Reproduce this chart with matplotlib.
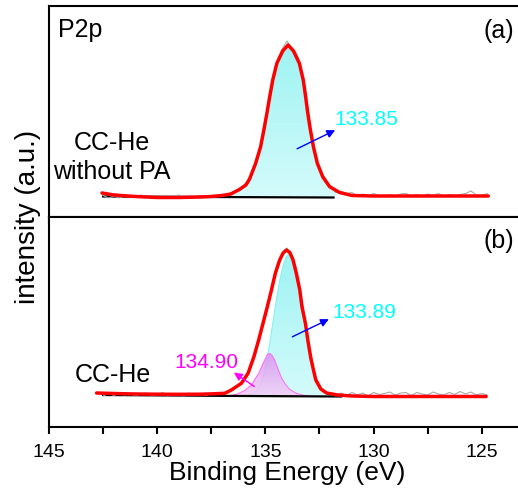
import numpy as np
import matplotlib
matplotlib.use('Agg')
import matplotlib.pyplot as plt
from matplotlib.colors import LinearSegmentedColormap
from matplotlib.patches import Polygon

plt.rcParams['font.family'] = ['Liberation Sans', 'DejaVu Sans']

# raw spectra, binding energy grid (eV)
raw_x = np.arange(142.5, 124.7, -0.25)
raw_a = [21.5, 19, 21, 19, 21.5, 19.5, 20.5, 22, 19, 21, 19, 21.5, 19.5, 20.5, 22, 19, 21, 19.5, 21.5, 19.5,
         21.5, 20.5, 22.5, 22.5, 25, 26.5, 31.5, 38, 51, 67, 93, 122, 152, 167, 176, 167, 160, 135, 101, 66,
         49, 35, 30, 24.5, 25.5, 23.5, 24.5, 21, 23, 21, 23.5, 21.5, 20.5, 22.5, 21, 23, 23.5, 21, 22.5, 21,
         23, 21.5, 23.5, 21, 22.5, 21.5, 22.5, 23.5, 26, 22, 21.5, 23.5]
raw_b = [31, 33.5, 31.5, 34, 32, 33.5, 31, 33, 34, 31.5, 32, 34.5, 31, 33.5, 32, 31, 34, 32, 33.5, 31.5,
         33.5, 34, 32.5, 35, 37, 42, 45, 57, 71, 93, 112, 136, 155, 172, 179, 168, 147, 118, 82, 54,
         41, 34, 34.5, 31, 34, 31.5, 34.5, 32, 34, 31, 34.5, 32.5, 33.5, 35, 32, 34, 34.5, 31.5, 34.5, 33,
         32, 35, 33, 32, 34.5, 32.5, 35.5, 33, 35, 32, 33.5, 32]

# fitted envelope (a) CC-He without PA
env_a_x = [142.55, 142.0, 141.0, 140.0, 139.0, 138.0, 137.5, 137.0, 136.6, 136.2, 135.9, 135.73, 135.45,
           135.22, 135.07, 134.93, 134.80, 134.66, 134.47, 134.2, 133.95, 133.7, 133.43, 133.25, 133.14,
           133.04, 132.92, 132.78, 132.60, 132.35, 132.03, 131.57, 131.0, 130.0, 129.0, 128.0, 127.0,
           126.0, 124.7]
env_a_h = [24, 22, 20.5, 19.5, 19.5, 20, 20.5, 21.5, 23, 27.5, 32, 38, 53.7, 70.3, 87, 103.7, 120.3,
           137, 153.7, 166, 172, 166, 153.7, 137, 120.3, 103.7, 87, 70.3, 53.7, 40.3, 30.3, 24.5, 21.5,
           21, 21, 21, 21, 21, 21]
base_a_x = [142.5, 137.5, 131.85]
base_a_h = [20.5, 20, 19.5]

# fitted envelope (b) CC-He
env_b_x = [142.8, 142.0, 141.0, 140.0, 139.0, 138.0, 137.4, 136.88, 136.57, 136.11, 135.80, 135.53, 135.31,
           135.11, 134.91, 134.72, 134.54, 134.34, 134.18, 134.03, 133.87, 133.72, 133.57, 133.41, 133.31,
           133.15, 133.04, 132.91, 132.81, 132.67, 132.44, 132.17, 131.66, 131.0, 130.0, 129.0, 128.0,
           127.0, 126.0, 124.8]
env_b_h = [34, 33.5, 33, 32.8, 32.7, 32.8, 33.2, 33.7, 37, 43.7, 53.7, 70.3, 87, 103.7, 120.3, 137, 153.7,
           167, 174, 177, 174.5, 167, 153.7, 137, 120.3, 103.7, 87, 70, 60, 47, 38, 34, 32, 31, 30.5,
           30.5, 30.5, 30.5, 30.5, 30.5]
base_b_x = [142.5, 136.0, 131.5]
base_b_h = [32, 31, 30.5]
base_b_level = 30.5

# components (b)
cyan_b_x = [136.5, 136.1, 135.7, 135.45, 135.25, 135.1, 134.95, 134.8, 134.65, 134.5, 134.35, 134.2, 134.05,
            133.89, 133.75, 133.6, 133.45, 133.3, 133.15, 133.0, 132.85, 132.7, 132.55, 132.35, 132.1,
            131.7, 131.3]
cyan_b_h = [30.5, 30.5, 32, 35, 41, 50, 64, 84, 105, 126, 145, 160, 170, 173.7, 170, 160, 145, 126, 105,
            84, 64, 50, 41, 35, 32, 30.5, 30.5]
pink_b_x = [136.7, 136.3, 135.95, 135.65, 135.45, 135.3, 135.15, 135.0, 134.9, 134.82, 134.7, 134.55, 134.4,
            134.25, 134.1, 133.9, 133.6, 133.3, 132.9]
pink_b_h = [31, 33, 36.5, 42, 49, 54, 61.5, 68.5, 72.5, 73.7, 72, 66, 57, 49, 43.5, 38, 34, 32, 31]

red = '#ff0000'


def grad_fill(ax, xs, ys, c_top, c_bot, alpha=1.0, z=1):
    # polygon filled with a vertical colour gradient
    patch = Polygon(np.c_[xs, ys], closed=True, facecolor='none', edgecolor='none')
    ax.add_patch(patch)
    cmap = LinearSegmentedColormap.from_list('g', [c_bot, c_top])
    im = ax.imshow(np.linspace(0, 1, 256).reshape(-1, 1), cmap=cmap, aspect='auto', origin='lower',
                   extent=[min(xs), max(xs), min(ys), max(ys)], alpha=alpha, zorder=z)
    im.set_clip_path(patch)


fig = plt.figure(figsize=(5.18, 5.0), dpi=100)
ax1 = fig.add_axes([0.0946, 0.566, 0.919, 0.422])
ax2 = fig.add_axes([0.0946, 0.146, 0.919, 0.420])

# ---- panel (a)
ex = np.array(env_a_x)
eh = np.array(env_a_h)
m = (ex <= 137.6) & (ex >= 131.5)
grad_fill(ax1, np.r_[ex[m], base_a_x[::-1]], np.r_[eh[m], base_a_h[::-1]], '#9ef3f3', '#d4fbfb')
ax1.plot(base_a_x, base_a_h, color='black', lw=1.6, zorder=2)
ax1.plot(raw_x, raw_a, color='#a8a8a8', lw=0.8, zorder=3)
ax1.plot(env_a_x, env_a_h, color=red, lw=2.5, solid_capstyle='round', zorder=4)

ax1.text(0.018, 0.853, 'P2p', transform=ax1.transAxes, fontsize=18)
ax1.text(0.978, 0.848, '(a)', transform=ax1.transAxes, fontsize=18, ha='right')
ax1.text(142.1, 59.5, 'CC-He\nwithout PA', fontsize=18, ha='center', va='center',
         multialignment='center', linespacing=1.3)
ax1.text(131.8, 92, '133.85', color='#00ffff', fontsize=15)
ax1.annotate('', xy=(131.66, 88), xytext=(133.65, 67),
             arrowprops=dict(arrowstyle='-|>', color='#0000ff', lw=1, mutation_scale=12), zorder=5)

ax1.set_xlim(145, 123)
ax1.set_ylim(0, 211)
ax1.set_yticks([])
ax1.set_xticks([145, 140, 135, 130, 125])
ax1.set_xticks([142.5, 137.5, 132.5, 127.5], minor=True)
ax1.tick_params(axis='x', which='both', direction='out', length=5, width=1.5, labelbottom=False)

# ---- panel (b)
cx = np.array(cyan_b_x)
grad_fill(ax2, np.r_[cx, cx[::-1]], np.r_[cyan_b_h, [base_b_level] * len(cx)], '#9ef3f3', '#d4fbfb')
ax2.plot(cyan_b_x, cyan_b_h, color='#7ff0f0', lw=0.7, zorder=1.5)
px = np.array(pink_b_x)
grad_fill(ax2, np.r_[px, px[::-1]], np.r_[pink_b_h, [base_b_level] * len(px)], '#d990ee', '#f3cdf7',
          alpha=0.85, z=1.6)
ax2.plot(pink_b_x, pink_b_h, color='#ff66ff', lw=0.7, zorder=1.7)
ax2.plot(base_b_x, base_b_h, color='black', lw=1.6, zorder=2)
ax2.plot(raw_x, raw_b, color='#a8a8a8', lw=0.8, zorder=3)
ax2.plot(env_b_x, env_b_h, color=red, lw=2.5, solid_capstyle='round', zorder=4)

ax2.text(0.978, 0.852, '(b)', transform=ax2.transAxes, fontsize=18, ha='right')
ax2.text(143.81, 45, 'CC-He', fontsize=18)
ax2.text(131.89, 109, '133.89', color='#00ffff', fontsize=15)
ax2.annotate('', xy=(131.95, 109), xytext=(133.87, 89),
             arrowprops=dict(arrowstyle='-|>', color='#0000ff', lw=1, mutation_scale=12), zorder=5)
ax2.text(139.19, 59, '134.90', color='#ff00ff', fontsize=15)
ax2.annotate('', xy=(136.56, 56), xytext=(135.41, 39),
             arrowprops=dict(arrowstyle='-|>', color='#ff00ff', lw=1, mutation_scale=12), zorder=5)

ax2.set_xlim(145, 123)
ax2.set_ylim(0, 210)
ax2.set_yticks([])
ax2.set_xticks([145, 140, 135, 130, 125])
ax2.set_xticks([142.5, 137.5, 132.5, 127.5], minor=True)
ax2.tick_params(axis='x', which='both', direction='out', length=5, width=1.5, labelsize=14, pad=7)
ax2.set_xlabel('Binding Energy (eV)', fontsize=19, labelpad=0)

for ax in (ax1, ax2):
    for s in ax.spines.values():
        s.set_linewidth(1.5)

fig.text(0.054, 0.566, 'intensity (a.u.)', rotation=90, fontsize=20, ha='center', va='center')

fig.savefig('out.png', dpi=100)
